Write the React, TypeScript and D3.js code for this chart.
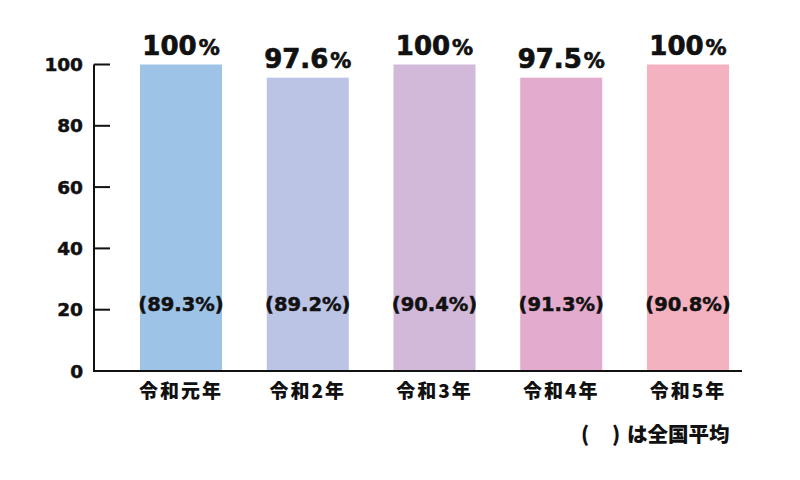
import React from "react";
import * as d3 from "d3";

const categories = ["令和元年", "令和2年", "令和3年", "令和4年", "令和5年"];
const barValues = [100, 95.7, 100, 95.7, 100];
const topLabels = ["100", "97.6", "100", "97.5", "100"];
const nationalAvg = ["89.3", "89.2", "90.4", "91.3", "90.8"];
const colors = ["#9DC3E6", "#BCC4E5", "#D2B9D9", "#E3ACCE", "#F4B1BF"];
const yTicks = [0, 20, 40, 60, 80, 100];

const W = 800;
const H = 480;
const NUM_FONT = "'DejaVu Sans', 'Noto Sans CJK JP', sans-serif";
const JP_FONT = "'Noto Sans CJK JP', 'DejaVu Sans', sans-serif";
const INK = "#111";

export default function App() {
  const y = d3.scaleLinear().domain([0, 100]).range([371, 64.5]);
  const x = d3
    .scaleBand<string>()
    .domain(categories)
    .range([102, 767])
    .paddingInner(0.353)
    .paddingOuter(0.3);
  const axisX = 94;
  const axisEnd = 742;

  return (
    <svg
      width={W}
      height={H}
      style={{ position: "absolute", left: 0, top: 0, background: "#fff" }}
    >
      {categories.map((c, i) => {
        const bx = x(c)!;
        const bw = x.bandwidth();
        const cx = bx + bw / 2;
        const top = y(barValues[i]);
        return (
          <g key={c}>
            <rect x={bx} y={top} width={bw} height={y(0) - top} fill={colors[i]} />
            <text
              x={cx}
              y={top - 9.5}
              textAnchor="middle"
              fontFamily={NUM_FONT}
              fontWeight="bold"
              fontSize={26}
              fill={INK}
              stroke={INK}
              strokeWidth={0.7}
            >
              {topLabels[i]}
              <tspan fontSize={21} dx={2}>%</tspan>
            </text>
            <text
              x={cx}
              y={y(20) + 1}
              textAnchor="middle"
              fontFamily={NUM_FONT}
              fontWeight="bold"
              fontSize={19.5}
              fill={INK}
              stroke={INK}
              strokeWidth={0.5}
            >
              ({nationalAvg[i]}%)
            </text>
            <text
              x={cx}
              y={398}
              textAnchor="middle"
              fontFamily={JP_FONT}
              fontWeight={900}
              fontSize={19}
              letterSpacing={2}
              fill={INK}
            >
              {c}
            </text>
          </g>
        );
      })}
      <line x1={axisX} x2={axisX} y1={y(100)} y2={y(0) + 1} stroke={INK} strokeWidth={2} />
      <line x1={axisX - 1} x2={axisEnd} y1={y(0)} y2={y(0)} stroke={INK} strokeWidth={2} />
      {yTicks.map((t) => (
        <g key={t}>
          {t > 0 && (
            <line x1={axisX} x2={110} y1={y(t)} y2={y(t)} stroke={INK} strokeWidth={2} />
          )}
          <text
            x={83}
            y={y(t) + 6.5}
            textAnchor="end"
            fontFamily={NUM_FONT}
            fontWeight="bold"
            fontSize={18.5}
            fill={INK}
            stroke={INK}
            strokeWidth={0.5}
          >
            {t}
          </text>
        </g>
      ))}
      <text
        y={442}
        fontFamily={JP_FONT}
        fontWeight={900}
        fontSize={20.5}
        fill={INK}
      >
        <tspan x={581}>(</tspan>
        <tspan x={612}>)</tspan>
        <tspan x={627}>は全国平均</tspan>
      </text>
    </svg>
  );
}
